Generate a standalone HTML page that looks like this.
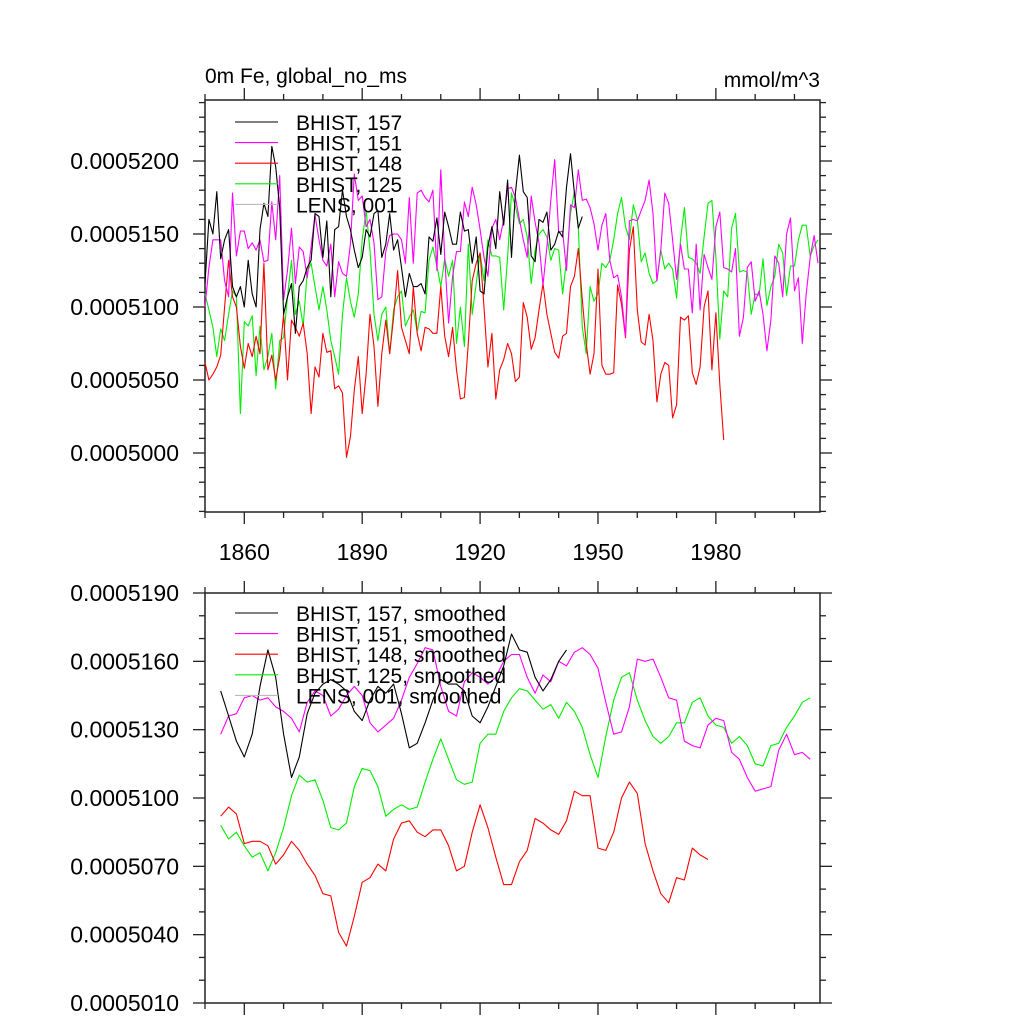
<!DOCTYPE html>
<html><head><meta charset="utf-8"><style>
html,body{margin:0;padding:0;background:#fff;}
svg{display:block;font-family:"Liberation Sans",sans-serif;}
</style></head><body>
<svg id="chart" width="1024" height="1024" viewBox="0 0 1024 1024"></svg>
<script>
// ---- data (values in units of 1e-7 mmol/m^3, e.g. 5200 = 0.0005200) ----
const yearStart = 1850;
const topYTicks = [5000, 5050, 5100, 5150, 5200];
const topYTickLabels = ["0.0005000","0.0005050","0.0005100","0.0005150","0.0005200"];
const botYTicks = [5010, 5040, 5070, 5100, 5130, 5160, 5190];
const botYTickLabels = ["0.0005010","0.0005040","0.0005070","0.0005100","0.0005130","0.0005160","0.0005190"];
const xTicks = [1860, 1890, 1920, 1950, 1980];
const xTickLabels = ["1860","1890","1920","1950","1980"];

const black157 = [5116,5160,5150,5179,5133,5146,5153,5114,5107,5114,5100,5132,5109,5100,5153,5171,5162,5210,5196,5168,5095,5107,5116,5082,5114,5118,5127,5132,5164,5162,5134,5159,5107,5153,5155,5180,5162,5153,5139,5127,5134,5153,5148,5164,5166,5134,5143,5164,5139,5146,5127,5107,
5123,5114,5114,5116,5109,5148,5145,5161,5136,5165,5155,5143,5143,5165,5152,5153,5130,5148,5111,5109,5141,5155,5140,5179,5156,5187,5134,5178,5204,5179,5175,5135,5131,5160,5158,5165,5139,5143,5152,5148,5182,5205,5178,5154,5162];
const magenta151 = [5100,5127,5146,5146,5146,5118,5107,5178,5135,5152,5152,5140,5144,5139,5146,5131,5132,5172,5146,5190,5105,5125,5154,5116,5141,5138,5120,5141,5163,5146,5132,5128,5143,5107,5131,5123,5121,5143,5191,5173,5176,5155,5160,5144,5105,5107,5138,5149,5150,5150,5146,5130,5175,5130,
5178,5180,5175,5172,5180,5125,5194,5134,5089,5121,5138,5138,5172,5162,5182,5170,5153,5134,5121,5154,5160,5146,5160,5181,5182,5175,5160,5146,5134,5176,5158,5144,5115,5141,5173,5201,5151,5152,5125,5170,5168,5194,5173,5174,5168,5157,5139,5156,5164,
5132,5120,5122,5107,5080,5159,5160,5159,5166,5173,5187,5164,5118,5139,5178,5171,5146,5119,5143,5126,5126,5096,5143,5098,5136,5127,5119,5155,5165,5127,5126,5124,5140,5080,5093,5127,5131,5104,5111,5095,5070,5091,5135,5130,5107,5150,5161,5111,5120,5075,5109,5134,5149,5130];
const red148 = [5062,5050,5054,5059,5067,5100,5132,5107,5100,5073,5058,5075,5066,5080,5068,5130,5057,5067,5050,5066,5095,5050,5091,5086,5080,5089,5068,5027,5059,5052,5082,5069,5070,5044,5046,5041,4997,5011,5043,5066,5027,5054,5095,5073,5032,5068,5091,5068,5093,5125,5086,5077,
5068,5114,5082,5070,5086,5085,5082,5082,5114,5080,5066,5086,5057,5037,5038,5075,5118,5130,5137,5100,5059,5082,5037,5057,5064,5075,5068,5049,5052,5103,5093,5071,5079,5098,5116,5095,5082,5069,5065,5080,5082,5114,5121,5140,5105,5075,5054,5068,5126,5060,5054,
5054,5055,5115,5102,5079,5139,5155,5098,5076,5074,5095,5077,5035,5054,5062,5060,5024,5033,5093,5091,5094,5055,5047,5059,5100,5111,5057,5096,5047,5009];
const green125 = [5109,5098,5086,5066,5085,5077,5095,5111,5107,5027,5090,5087,5094,5053,5087,5057,5066,5082,5044,5077,5079,5107,5132,5095,5104,5087,5124,5130,5114,5098,5114,5098,5077,5066,5054,5095,5120,5104,5093,5109,5146,5166,5139,5095,5077,5095,5100,5068,5098,5107,5111,5087,
5093,5098,5083,5097,5096,5132,5141,5128,5114,5133,5121,5132,5075,5100,5073,5143,5095,5116,5137,5118,5146,5135,5135,5134,5098,5134,5178,5169,5157,5160,5148,5116,5139,5150,5153,5148,5132,5140,5139,5109,5132,5164,5179,5155,5086,5068,5114,5104,5109,5130,5127,
5132,5146,5164,5175,5155,5146,5170,5160,5131,5137,5123,5116,5118,5139,5126,5130,5126,5106,5146,5168,5134,5133,5130,5123,5148,5171,5173,5134,5078,5111,5107,5154,5164,5124,5125,5124,5095,5109,5108,5133,5101,5114,5121,5143,5137,5108,5128,5128,5146,5156,5156,5135,5142,5146];

// smoothed series, every 2 years starting 1854
const smoothStart = 1854;
const smoothStep = 2;
const black157s = [5147,5136,5125,5118,5128,5149,5165,5153,5128,5109,5118,5137,5146,5150,5152,5150,5147,5138,5134,5143,5149,5146,5150,5137,5122,5124,5133,5143,5152,5150,5150,5147,5136,5133,5140,5149,5158,5172,5165,5164,5153,5147,5152,5160,5165];
const magenta151s = [5128,5136,5137,5144,5145,5143,5144,5140,5138,5135,5129,5142,5147,5145,5136,5139,5145,5149,5145,5133,5129,5132,5135,5143,5153,5159,5166,5165,5149,5138,5136,5151,5155,5153,5150,5153,5160,5163,5163,5153,5146,5154,5151,5160,5158,5164,5166,5163,5157,5142,5128,5129,5140,5161,5160,5161,5153,5144,5143,5125,5123,5122,5132,5135,5134,5120,5117,5109,5103,5104,5105,5121,5128,5119,5120,5117];
const red148s = [5092,5096,5093,5080,5081,5081,5079,5071,5075,5081,5077,5071,5066,5058,5057,5041,5035,5048,5063,5065,5071,5068,5082,5089,5090,5085,5083,5086,5086,5079,5068,5070,5085,5097,5087,5074,5062,5062,5072,5077,5091,5089,5086,5084,5090,5103,5101,5101,5078,5077,5085,5100,5107,5102,5080,5068,5058,5054,5065,5064,5078,5075,5073];
const green125s = [5088,5082,5085,5079,5074,5076,5068,5076,5087,5101,5110,5107,5108,5099,5087,5086,5089,5105,5113,5112,5105,5092,5095,5097,5095,5096,5107,5117,5126,5117,5108,5106,5107,5124,5128,5128,5138,5144,5148,5147,5143,5139,5141,5135,5142,5138,5131,5119,5109,5127,5143,5153,5155,5143,5134,5127,5124,5127,5133,5133,5142,5144,5136,5132,5131,5124,5127,5123,5115,5114,5123,5124,5131,5136,5142,5144];

// ---- drawing ----
const svg = document.getElementById('chart');
const NS = 'http://www.w3.org/2000/svg';
const X0 = 205, X1 = 820, YR0 = 1850, YR1 = 2006.5;
function xScale(yr){ return X0 + (yr - YR0) * (X1 - X0) / (YR1 - YR0); }
const topPanel = {top:100, bottom:512, vTop:5200 + 61/73*50, vBot:5000 - 59/73*50};
const botPanel = {top:593, bottom:1003, vTop:5190, vBot:5010};
function yScale(p, v){ return p.top + (p.vTop - v) * (p.bottom - p.top) / (p.vTop - p.vBot); }
function mk(tag, attrs, parent){
  const e = document.createElementNS(NS, tag);
  for (const k in attrs) e.setAttribute(k, attrs[k]);
  (parent || svg).appendChild(e);
  return e;
}
const AX = '#222';

function drawPanel(p, name, yTicks, yLabels, minorStep, showXLabels){
  const g = mk('g', {});
  
  
  const frame = mk('rect', {x:X0, y:p.top, width:X1-X0, height:p.bottom-p.top, fill:'none', stroke:AX, 'stroke-width':1.5}, g);
  
  
  for (let yr = 1850; yr <= 2000; yr += 10) {
    const x = xScale(yr);
    const major = xTicks.indexOf(yr) >= 0;
    const L = major ? 12 : 6;
    mk('line', {x1:x, y1:p.bottom, x2:x, y2:p.bottom+L, stroke:AX, 'stroke-width':1.3}, g);
    mk('line', {x1:x, y1:p.top, x2:x, y2:p.top-L, stroke:AX, 'stroke-width':1.3}, g);
  }
  if (showXLabels) {
    xTicks.forEach((yr, i) => {
      const t = mk('text', {x:xScale(yr), y:p.bottom+48, 'font-size':23, 'text-anchor':'middle', fill:'#000'}, g);
      t.textContent = xTickLabels[i];
      
      
    });
  }
  for (let v = Math.ceil(p.vBot / minorStep) * minorStep; v <= p.vTop; v += minorStep) {
    const y = yScale(p, v);
    const major = yTicks.indexOf(v) >= 0;
    const L = major ? 12 : 6;
    mk('line', {x1:X0, y1:y, x2:X0-L, y2:y, stroke:AX, 'stroke-width':1.3}, g);
    mk('line', {x1:X1, y1:y, x2:X1+L, y2:y, stroke:AX, 'stroke-width':1.3}, g);
  }
  yTicks.forEach((v, i) => {
    const t = mk('text', {x:179, y:yScale(p, v)+8, 'font-size':23, 'text-anchor':'end', fill:'#000'}, g);
    t.textContent = yLabels[i];
    
    
  });
  return g;
}

function drawLine(p, data, start, step, color, name){
  const pts = data.map((v, i) => xScale(start + i*step).toFixed(1) + ',' + yScale(p, v).toFixed(1)).join(' ');
  const l = mk('polyline', {points:pts, fill:'none', stroke:color, 'stroke-width':1.1, 'stroke-linejoin':'round'});
  
  
}

function drawLegend(top, labels, colors, name){
  const g = mk('g', {});
  
  
  labels.forEach((lab, i) => {
    const y = top + i*20.6;
    mk('line', {x1:235, y1:y, x2:278, y2:y, stroke:colors[i], 'stroke-width':1.1}, g);
    const t = mk('text', {x:296, y:y+8, 'font-size':21, fill:'#000'}, g);
    t.textContent = lab;
    
    
  });
}

const colors = ['#000000', '#ff00ff', '#ff0000', '#00ee00', '#bbbbbb'];

drawPanel(topPanel, 'top-panel', topYTicks, topYTickLabels, 10, true);
drawPanel(botPanel, 'bottom-panel', botYTicks, botYTickLabels, 10, false);

drawLine(topPanel, green125, yearStart, 1, colors[3], 'series-bhist-125');
drawLine(topPanel, red148, yearStart, 1, colors[2], 'series-bhist-148');
drawLine(topPanel, magenta151, yearStart, 1, colors[1], 'series-bhist-151');
drawLine(topPanel, black157, yearStart, 1, colors[0], 'series-bhist-157');

drawLine(botPanel, green125s, smoothStart, smoothStep, colors[3], 'series-bhist-125-smoothed');
drawLine(botPanel, red148s, smoothStart, smoothStep, colors[2], 'series-bhist-148-smoothed');
drawLine(botPanel, magenta151s, smoothStart, smoothStep, colors[1], 'series-bhist-151-smoothed');
drawLine(botPanel, black157s, smoothStart, smoothStep, colors[0], 'series-bhist-157-smoothed');

drawLegend(122, ['BHIST, 157','BHIST, 151','BHIST, 148','BHIST, 125','LENS, 001'], colors, 'top-legend');
drawLegend(613, ['BHIST, 157, smoothed','BHIST, 151, smoothed','BHIST, 148, smoothed','BHIST, 125, smoothed','LENS, 001, smoothed'], colors, 'bottom-legend');

const t1 = mk('text', {x:205, y:83, 'font-size':21, fill:'#000'});
t1.textContent = '0m Fe, global_no_ms';


const t2 = mk('text', {x:820, y:87, 'font-size':21, 'text-anchor':'end', fill:'#000'});
t2.textContent = 'mmol/m^3';


</script>
</body></html>
